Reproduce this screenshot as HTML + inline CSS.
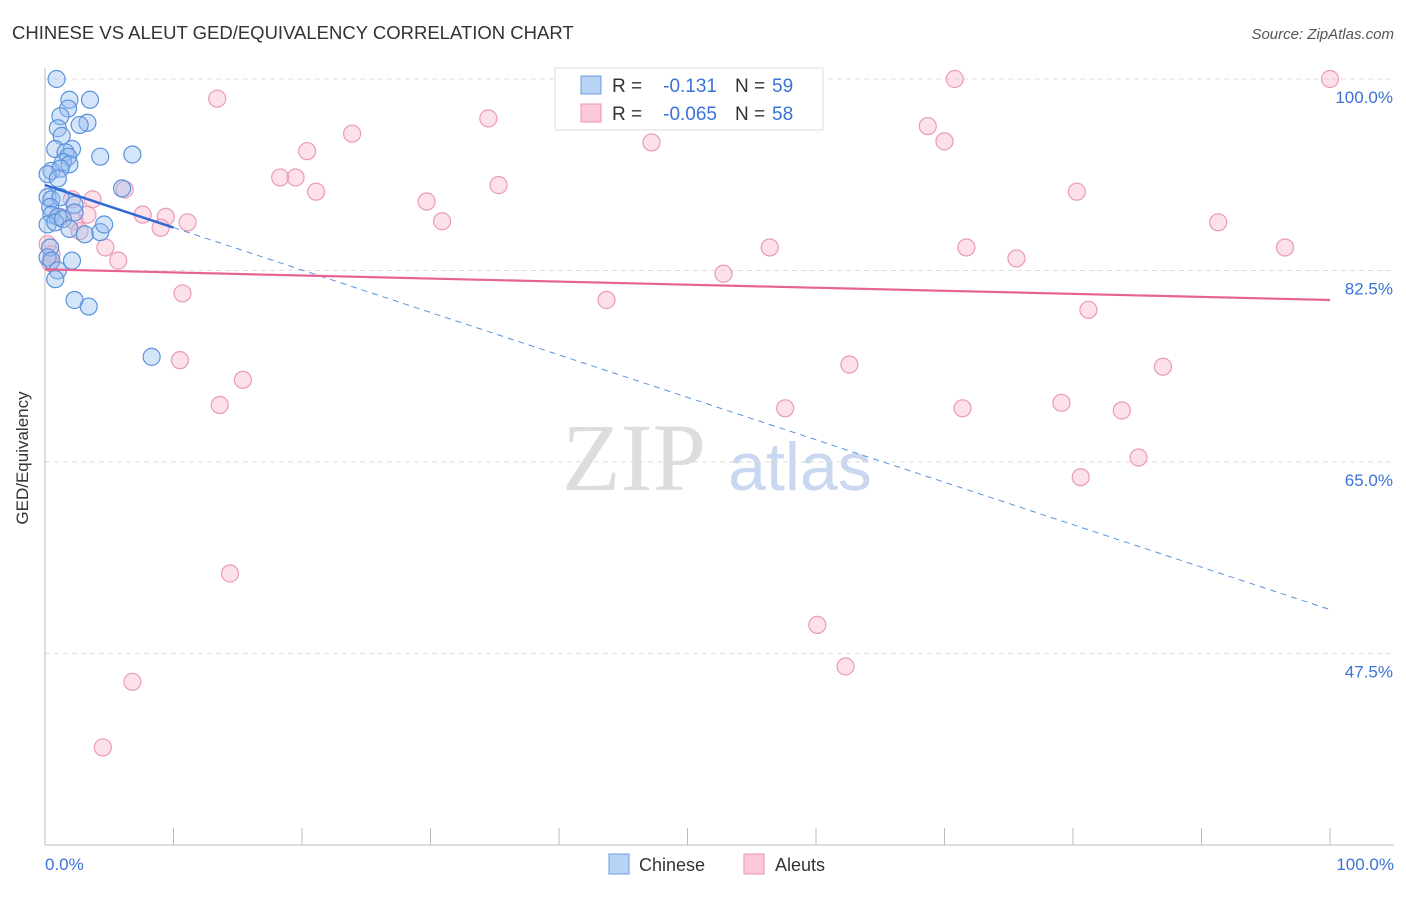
<!DOCTYPE html>
<html><head><meta charset="utf-8"><style>
body{margin:0;background:#fff;font-family:"Liberation Sans",sans-serif}
</style></head><body>
<svg id="c" width="1406" height="892" xmlns="http://www.w3.org/2000/svg" style="font-family:'Liberation Sans',sans-serif">
<text x="12" y="39" font-size="18.5" fill="#333">CHINESE VS ALEUT GED/EQUIVALENCY CORRELATION CHART</text>
<text x="1394" y="39" font-size="15" fill="#555" text-anchor="end" font-style="italic">Source: ZipAtlas.com</text>
<text x="634" y="490" font-size="96" fill="#ddd" font-family="Liberation Serif" text-anchor="middle">ZIP</text>
<text x="800" y="490" font-size="68" fill="#c9d8f0" text-anchor="middle">atlas</text>
<g id="grid"></g><g id="pts"></g><g id="lines"></g>
<text x="28" y="458" font-size="17" fill="#333" transform="rotate(-90 28 458)" text-anchor="middle">GED/Equivalency</text>
<text x="45" y="870" font-size="17" fill="#3a72d8">0.0%</text>
<text x="1394" y="870" font-size="17" fill="#3a72d8" text-anchor="end">100.0%</text>
<g>
<rect x="555" y="68" width="268" height="62" fill="#fff" stroke="#ddd"/>
<rect x="581" y="76" width="20" height="18" fill="#b9d3f5" stroke="#6c9ee0"/>
<rect x="581" y="104" width="20" height="18" fill="#fbc8d8" stroke="#eb93b0"/>
<text x="612" y="92" font-size="19" fill="#333">R =</text>
<text x="717" y="92" font-size="19" fill="#3a72d8" text-anchor="end">-0.131</text>
<text x="735" y="92" font-size="19" fill="#333">N =</text>
<text x="772" y="92" font-size="19" fill="#3a72d8">59</text>
<text x="612" y="120" font-size="19" fill="#333">R =</text>
<text x="717" y="120" font-size="19" fill="#3a72d8" text-anchor="end">-0.065</text>
<text x="735" y="120" font-size="19" fill="#333">N =</text>
<text x="772" y="120" font-size="19" fill="#3a72d8">58</text>
</g>
<g>
<rect x="609" y="854" width="20" height="20" fill="#b9d3f5" stroke="#6c9ee0"/>
<text x="639" y="871" font-size="18" fill="#333">Chinese</text>
<rect x="744" y="854" width="20" height="20" fill="#fbc8d8" stroke="#eb93b0"/>
<text x="775" y="871" font-size="18" fill="#333">Aleuts</text>
</g>
</svg>
<script>
const yTicks=[100,82.5,65,47.5];
const yTickLabels=["100.0%","82.5%","65.0%","47.5%"];
const chineseX=[0.9,1.9,3.5,1.8,1.2,3.3,2.7,1.0,1.3,0.8,2.1,1.6,1.8,4.3,6.8,1.4,1.9,0.5,1.2,0.2,1.0,6.0,0.2,0.5,1.2,0.4,2.3,0.5,1.0,0.2,0.8,2.3,1.4,1.9,3.1,4.3,4.6,0.4,0.2,0.5,2.1,1.0,0.8,2.3,3.4,8.3];
const chineseY=[100,98.1,98.1,97.3,96.6,96.0,95.8,95.5,94.8,93.6,93.6,93.3,92.9,92.9,93.1,92.4,92.2,91.6,91.8,91.3,90.9,90.0,89.2,89.0,89.2,88.3,88.5,87.6,87.4,86.7,86.9,87.8,87.2,86.3,85.8,86.0,86.7,84.6,83.7,83.4,83.4,82.5,81.7,79.8,79.2,74.6];
const aleutX=[100,70.8,55.6,13.4,34.5,23.9,68.7,47.2,70.0,20.4,18.3,19.5,21.1,35.3,80.3,6.2,29.7,3.7,2.1,7.6,9.4,11.1,9.0,30.9,91.3,3.3,1.2,2.3,2.7,4.7,5.7,56.4,71.7,96.5,75.6,52.8,10.7,43.7,81.2,10.5,62.6,87.0,15.4,13.6,57.6,71.4,79.1,83.8,85.1,80.6,14.4,60.1,62.3,6.8,4.5,0.5,0.2,0.4];
const aleutY=[100,100,99.9,98.2,96.4,95.0,95.7,94.2,94.3,93.4,91.0,91.0,89.7,90.3,89.7,89.9,88.8,89.0,89.0,87.6,87.4,86.9,86.4,87.0,86.9,87.6,87.4,87.0,86.1,84.6,83.4,84.6,84.6,84.6,83.6,82.2,80.4,79.8,78.9,74.3,73.9,73.7,72.5,70.2,69.9,69.9,70.4,69.7,65.4,63.6,54.8,50.1,46.3,44.9,38.9,84.0,84.9,83.2];
const blueFit=[90.3,51.5];
const pinkFit=[82.6,79.8];
const sx=v=>45+v*12.85, sy=v=>79+(100-v)*10.94;
const NS="http://www.w3.org/2000/svg";
function mk(t,a,p){const e=document.createElementNS(NS,t);for(const k in a)e.setAttribute(k,a[k]);p.appendChild(e);return e;}
const g=document.getElementById('grid');
yTicks.forEach((t,i)=>{
 const l=mk('line',{x1:45,x2:1394,y1:sy(t),y2:sy(t),stroke:'#ddd','stroke-dasharray':'5,4'},g);
 
 
 const tx=mk('text',{x:1393,y:sy(t)+24,'font-size':17,fill:'#3a72d8','text-anchor':'end'},g);
 tx.textContent=yTickLabels[i];
 
 
});
const ax=mk('line',{x1:45,x2:45,y1:68,y2:845,stroke:'#bbb'},g);


const bx=mk('line',{x1:45,x2:1394,y1:845,y2:845,stroke:'#bbb'},g);


for(let i=0;i<=10;i++){const t=mk('line',{x1:sx(i*10),x2:sx(i*10),y1:828,y2:845,stroke:'#bbb'},g);
 
 }
const p=document.getElementById('pts');
aleutX.forEach((x,i)=>{const c=mk('circle',{cx:sx(x),cy:sy(aleutY[i]),r:8.5,fill:'rgba(248,180,200,0.4)',stroke:'#eb9ab5','stroke-width':1.2},p);
 
 });
chineseX.forEach((x,i)=>{const c=mk('circle',{cx:sx(x),cy:sy(chineseY[i]),r:8.5,fill:'rgba(150,190,240,0.4)',stroke:'#5b92dc','stroke-width':1.2},p);
 
 });
const L=document.getElementById('lines');
const by=x=>blueFit[0]+(blueFit[1]-blueFit[0])*x/100;
const l1=mk('line',{x1:sx(10),y1:sy(by(10)),x2:sx(100),y2:sy(by(100)),stroke:'#5b92dc','stroke-dasharray':'6,5','stroke-width':1},L);


const l2=mk('line',{x1:sx(0),y1:sy(by(0)),x2:sx(10),y2:sy(by(10)),stroke:'#2f6ad6','stroke-width':2.5},L);


const l3=mk('line',{x1:sx(0),y1:sy(pinkFit[0]),x2:sx(100),y2:sy(pinkFit[1]),stroke:'#e8638f','stroke-width':2.2},L);


</script>
</body></html>
